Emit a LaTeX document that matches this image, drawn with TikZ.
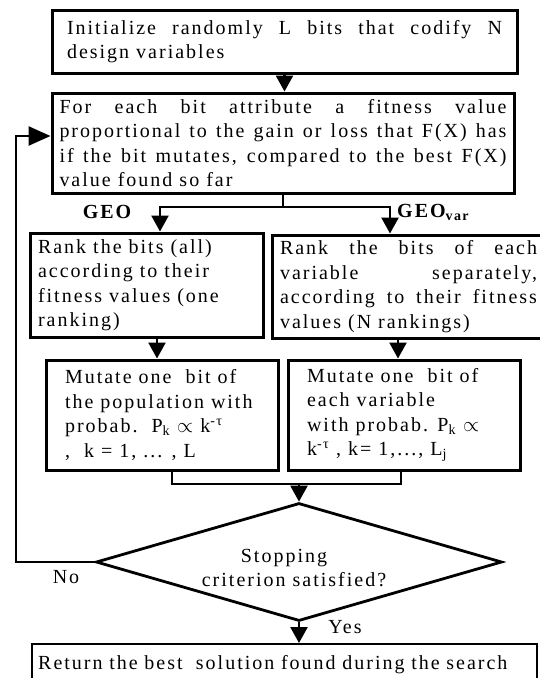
\documentclass[tikz,border=0pt]{standalone}
\usepackage{fontspec}
\setmainfont{Liberation Serif}[LetterSpace=10]
\usetikzlibrary{arrows.meta,shapes.geometric}
\newcommand\boxfont{\fontsize{20}{24.5}\selectfont}
\begin{document}
\begin{tikzpicture}[x=1pt,y=-1pt,
  box/.style={draw, line width=3pt, inner sep=0pt, font=\boxfont},
  con/.style={line width=2.6pt},
  con2/.style={line width=2.4pt},
  arr/.style={line width=2.6pt, -{Triangle[length=16pt,width=17pt]}},
  arrL/.style={line width=2.6pt, -{Triangle[length=22pt,width=19pt]}},
  lbl/.style={font=\boxfont, inner sep=0pt}]
\useasboundingbox (0,0) rectangle (539,678);

\node[box, minimum width=465pt, minimum height=63pt] (b1) at (284.5,41.5)
  {\parbox{435pt}{\makebox[435pt][s]{Initialize randomly L bits that codify N}\\design variables}};

\node[box, minimum width=462pt, minimum height=100pt] (b2) at (283,143)
  {\parbox{447pt}{\makebox[447pt][s]{For each bit attribute a fitness value}\\
   \makebox[447pt][s]{proportional to the gain or loss that F(X) has}\\
   \makebox[447pt][s]{if the bit mutates, compared to the best F(X)}\\
   value found so far}};

\node[box, minimum width=233pt, minimum height=104pt] (b3l) at (146.5,285)
  {\parbox{217pt}{Rank the bits (all)\\according to their\\fitness values (one\\ranking)}};

\node[box, minimum width=273pt, minimum height=103pt] (b3r) at (408.5,286.5)
  {\parbox{257pt}{\makebox[257pt][s]{Rank the bits of each}\\
   \makebox[257pt][s]{variable separately,}\\
   \makebox[257pt][s]{according to their fitness}\\
   values (N rankings)}};

\node[box, minimum width=232pt, minimum height=110pt] (b4l) at (162,415)
  {\parbox{194pt}{Mutate one\ \ bit of\\the population with\\probab.\ \ P\textsubscript{k} $\propto$ k\textsuperscript{-τ}\\,\ \ k = 1, ... , L}};

\node[box, minimum width=232pt, minimum height=110pt] (b4r) at (404,415)
  {\parbox{194pt}{Mutate one\ \ bit of\\each variable\\with probab. P\textsubscript{k} $\propto$\\k\textsuperscript{-τ} , k= 1,..., L\textsubscript{j}}};

\node[draw, diamond, line width=2.8pt, minimum width=406pt, minimum height=118pt, inner sep=0pt] (dec) at (299,562) {};
\node[font=\boxfont, align=center, inner sep=0pt] (dect) at (294,568) {Stopping\rule{20pt}{0pt}\\criterion satisfied?};

\node[box, line width=2.4pt, anchor=north west, text width=493pt, inner xsep=6pt, inner ysep=0pt,
  text height=25pt, text depth=20pt, align=left] (b5) at (31,643)
  {Return the best\ \ solution found during the search};

\node[lbl, font=\boxfont\bfseries] (geo) at (107,212) {GEO};
\node[lbl, font=\boxfont\bfseries, anchor=west] (geovar) at (397,212) {GEO\textsubscript{var}};
\node[lbl] (no) at (66,577) {No};
\node[lbl] (yes) at (345,627) {Yes};

% connectors
\draw[arr] (b1.south) -- (b1.south |- b2.north);

\coordinate (gl) at (160,207);
\coordinate (gr) at (390,207);
\draw[con] (b2.south) -- (b2.south |- gl);
\draw[arr] (b2.south |- gl) -- (gl) -- (gl |- b3l.north);
\draw[arr] (b2.south |- gl) -- (gr) -- (gr |- b3r.north);

\coordinate (a3l) at (157,337);
\coordinate (a3r) at (398,338);
\draw[arr] (a3l |- b3l.south) -- (a3l |- b4l.north);
\draw[arr] (a3r |- b3r.south) -- (a3r |- b4r.north);

\coordinate (ml) at (172,484);
\coordinate (mr) at (401,484);
\draw[con2] (ml |- b4l.south) -- (ml) -- (mr) -- (mr |- b4r.south);
\draw[arr] (dec.north |- ml) -- (dec.north);

\draw[arr] (dec.south) -- (dec.south |- b5.north);

\coordinate (lp) at (16,136);
\draw[arrL] (dec.west) -| (lp) -- (lp -| b2.west);
\end{tikzpicture}
\end{document}
